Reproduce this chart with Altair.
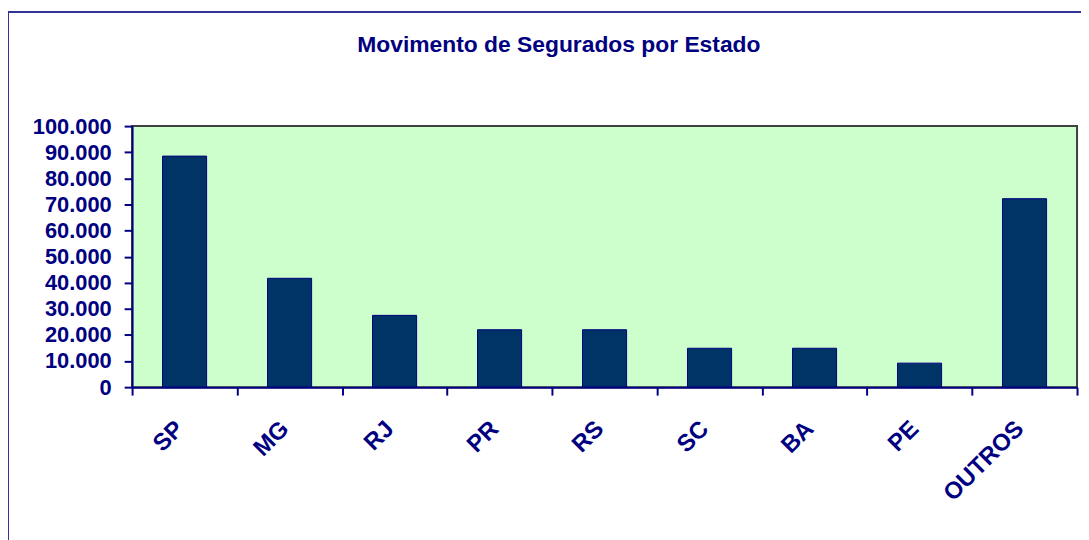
import altair as alt
import pandas as pd

categories = ["SP", "MG", "RJ", "PR", "RS", "SC", "BA", "PE", "OUTROS"]
values = [88500, 41700, 27500, 22000, 22000, 14900, 14900, 9200, 72200]
y_ticks = [0, 10000, 20000, 30000, 40000, 50000, 60000, 70000, 80000, 90000, 100000]
title_text = "Movimento de Segurados por Estado"

df = pd.DataFrame({"estado": categories, "segurados": values})

NAVY = "#000080"
FONT = "Liberation Sans"

frame = alt.Chart(pd.DataFrame({"k": [0]})).mark_rect(
    filled=False, stroke="#333399", strokeWidth=2
).encode(
    x=alt.value(-125), x2=alt.value(1000), y=alt.value(-115), y2=alt.value(460)
)

bars = alt.Chart(df).mark_bar(
    color="#003366", stroke=NAVY, strokeWidth=1, width=alt.RelativeBandSize(0.42)
).encode(
    x=alt.X(
        "estado:N", sort=categories, title=None,
        scale=alt.Scale(paddingInner=0, paddingOuter=0),
        axis=alt.Axis(
            labelAngle=315, labelAlign="right", labelBaseline="middle",
            labelPadding=30, labelOffset=-5, labelFont=FONT, labelFontSize=24,
            labelFontWeight="bold", labelColor=NAVY, tickBand="extent",
            tickSize=8, tickWidth=2, tickColor=NAVY, domainColor=NAVY,
            domainWidth=2, grid=False, zindex=1,
        ),
    ),
    y=alt.Y(
        "segurados:Q", title=None,
        scale=alt.Scale(domain=[0, 100000], nice=False),
        axis=alt.Axis(
            values=y_ticks, format=",d", grid=False, labelFont=FONT,
            labelFontSize=22, labelFontWeight="bold", labelColor=NAVY,
            labelPadding=13, tickSize=8, tickWidth=2, tickColor=NAVY,
            domainColor=NAVY, domainWidth=2, zindex=1,
        ),
    ),
)

chart = alt.layer(frame, bars).properties(
    width=952,
    height=263,
    autosize=alt.AutoSizeParams(type="none"),
    padding={"left": 125, "top": 117, "right": 4, "bottom": 152},
    background="white",
    title=alt.TitleParams(
        text=title_text, anchor="middle", frame="group", dx=-46, offset=-64,
        baseline="alphabetic", font=FONT, fontSize=23, fontWeight="bold",
        color=NAVY,
    ),
).configure(
    locale=alt.Locale(number=alt.NumberLocale(
        decimal=",", thousands=".", grouping=[3], currency=["R$", ""]
    ))
).configure_view(fill="#CCFFCC", stroke="#404040", strokeWidth=2)

chart.save("out.html", embed_options={"renderer": "svg", "actions": False})
